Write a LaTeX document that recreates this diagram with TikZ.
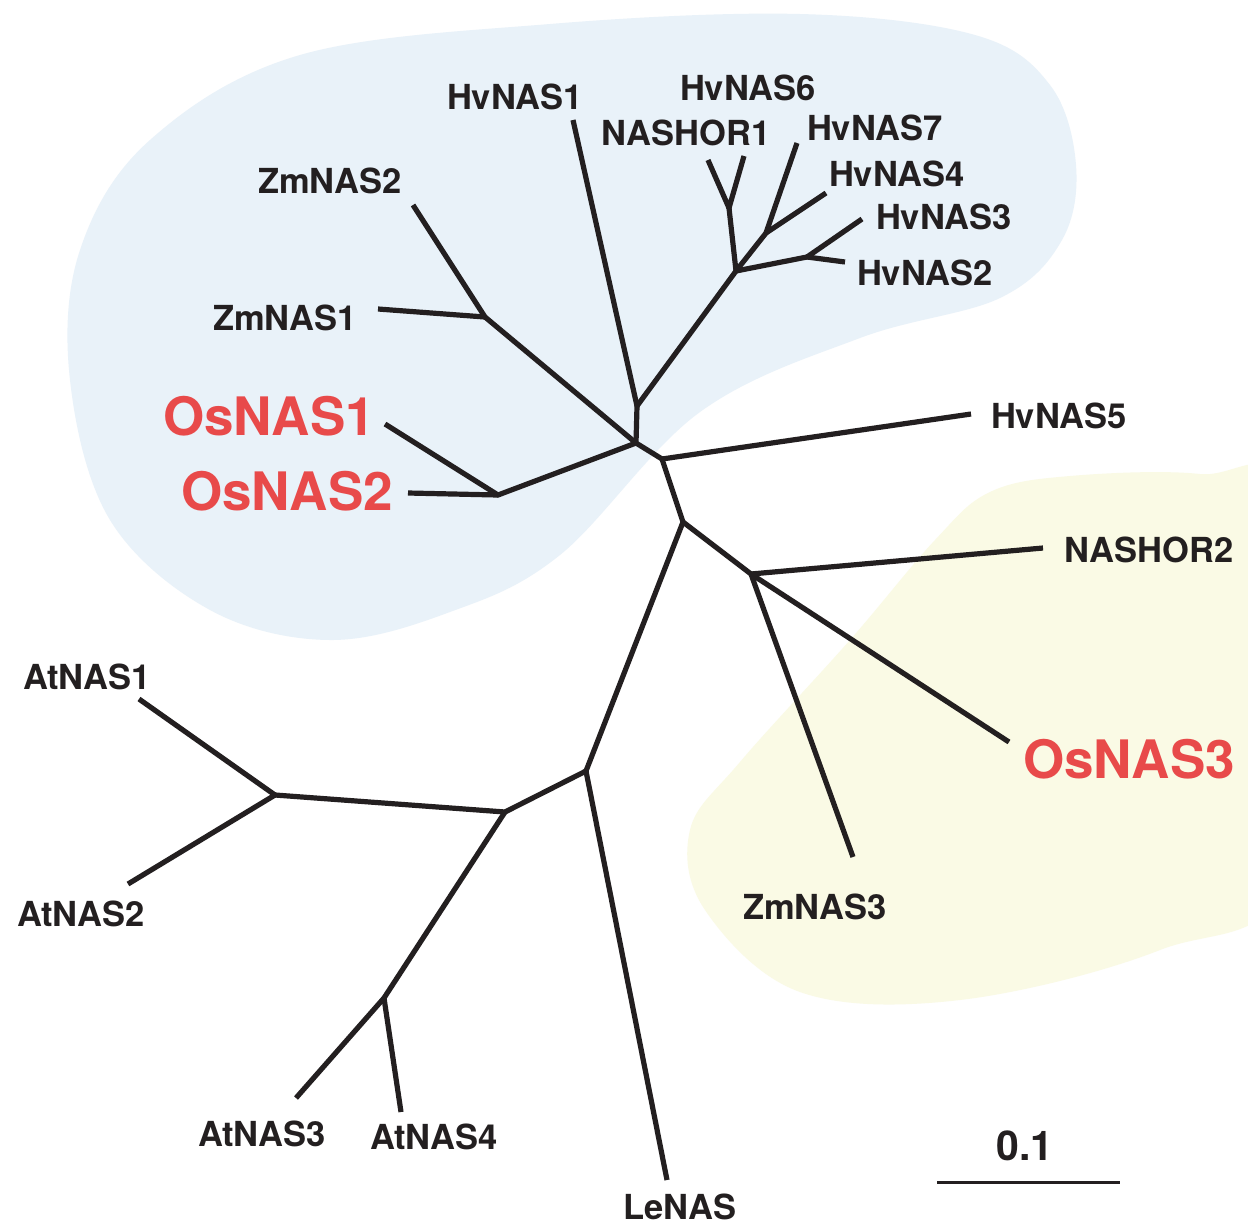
\documentclass[tikz,border=0pt]{standalone}
\usepackage{fontspec}
\newfontfamily\lab{TeX Gyre Heros}
\begin{document}
\begin{tikzpicture}[x=1pt,y=-1pt,
  br/.style={line width=5.2pt, draw=ink, line join=round},
  lbl/.style={inner sep=0pt, text=ink, font=\lab\bfseries\fontsize{34.5}{36}\selectfont},
  rlbl/.style={inner sep=0pt, text=redlab, font=\lab\bfseries\fontsize{53}{56}\selectfont}]
\definecolor{ink}{RGB}{35,31,32}
\definecolor{redlab}{RGB}{232,74,74}
\definecolor{bluebg}{RGB}{233,242,249}
\definecolor{yelbg}{RGB}{250,250,229}
\useasboundingbox (0,0) rectangle (1248,1227);
\fill[white] (0,0) rectangle (1248,1227);
% background regions
\fill[bluebg] plot[smooth cycle, tension=0.6] coordinates {
 (560,555) (700,412) (860,338) (1000,298) (1062,240) (1076,165) (1050,85)
 (975,35) (800,14) (550,24) (300,55) (150,140) (80,250) (70,380)
 (110,520) (210,610) (330,640) (450,612)};
\fill[yelbg] plot[smooth cycle, tension=0.6] coordinates {
 (990,492) (1070,476) (1200,474) (1290,500) (1290,870) (1160,950) (960,1000)
 (800,992) (705,910) (690,830) (740,762) (850,640) (935,540)};
% junctions
\coordinate (jtop) at (637,406);
\coordinate (jc) at (636,443);
\coordinate (jZm) at (485,317);
\coordinate (jOs) at (498,495);
\coordinate (jd) at (662,459);
\coordinate (je) at (683,522);
\coordinate (jN) at (751,574);
\coordinate (jH) at (736,271);
\coordinate (jN1) at (729,208);
\coordinate (j74) at (766,233);
\coordinate (j23) at (807,257);
\coordinate (jf) at (586,771);
\coordinate (jAt) at (505,812);
\coordinate (jA12) at (275,795);
\coordinate (jA34) at (384,998);
% leaf ends
\coordinate (lHv1) at (573,120);
\coordinate (lN1a) at (708,160);
\coordinate (lN1b) at (744,156);
\coordinate (lHv7) at (797,143);
\coordinate (lHv4) at (826,193);
\coordinate (lHv3) at (862,219);
\coordinate (lHv2) at (845,262);
\coordinate (lZm2) at (413,205);
\coordinate (lZm1) at (378,309);
\coordinate (lOs1) at (385,424);
\coordinate (lOs2) at (408,493);
\coordinate (lHv5) at (971,414);
\coordinate (lNH2) at (1043,548);
\coordinate (lOs3) at (1009,742);
\coordinate (lZm3) at (853,857);
\coordinate (lAt1) at (139,699);
\coordinate (lAt2) at (128,884);
\coordinate (lAt3) at (296,1098);
\coordinate (lAt4) at (401,1112);
\coordinate (lLe) at (667,1180);
% branches
\draw[br] (lHv1) -- (jtop) -- (jc) -- (jd) -- (je) -- (jf) -- (lLe);
\draw[br] (jtop) -- (jH) -- (j74) -- (lHv7);
\draw[br] (lN1a) -- (jN1) -- (lN1b);
\draw[br] (jN1) -- (jH);
\draw[br] (j74) -- (lHv4);
\draw[br] (jH) -- (j23) -- (lHv2);
\draw[br] (j23) -- (lHv3);
\draw[br] (lZm2) -- (jZm) -- (jc);
\draw[br] (lZm1) -- (jZm);
\draw[br] (lOs1) -- (jOs) -- (lOs2);
\draw[br] (jOs) -- (jc);
\draw[br] (jd) -- (lHv5);
\draw[br] (je) -- (jN) -- (lZm3);
\draw[br] (lNH2) -- (jN) -- (lOs3);
\draw[br] (lAt1) -- (jA12) -- (lAt2);
\draw[br] (jA12) -- (jAt) -- (jf);
\draw[br] (jAt) -- (jA34) -- (lAt3);
\draw[br] (jA34) -- (lAt4);
\foreach \j in {jtop,jc,jZm,jOs,jd,je,jN,jH,jN1,j74,j23,jf,jAt,jA12,jA34}
  \fill[ink] (\j) circle (2.6);
% labels
\node[lbl] (tHv1) at (515,97) {HvNAS1};
\node[lbl] (tHv6) at (748,88) {HvNAS6};
\node[lbl] (tN1) at (686,133) {NASHOR1};
\node[lbl] (tHv7) at (875,128) {HvNAS7};
\node[lbl] (tHv4) at (897,174) {HvNAS4};
\node[lbl] (tHv3) at (944,217) {HvNAS3};
\node[lbl] (tHv2) at (925,273) {HvNAS2};
\node[lbl] (tZm2) at (330,181) {ZmNAS2};
\node[lbl] (tZm1) at (285,318) {ZmNAS1};
\node[rlbl] (tOs1) at (269,416) {OsNAS1};
\node[rlbl] (tOs2) at (287,491) {OsNAS2};
\node[lbl] (tHv5) at (1059,416) {HvNAS5};
\node[lbl] (tNH2) at (1149,550) {NASHOR2};
\node[rlbl] (tOs3) at (1129,759) {OsNAS3};
\node[lbl] (tZm3) at (815,907) {ZmNAS3};
\node[lbl] (tAt1) at (87,677) {AtNAS1};
\node[lbl] (tAt2) at (81,914) {AtNAS2};
\node[lbl] (tAt3) at (262,1134) {AtNAS3};
\node[lbl] (tAt4) at (434,1137) {AtNAS4};
\node[lbl] (tLe) at (680,1207) {LeNAS};
% scale bar
\node[lbl, font=\lab\bfseries\fontsize{41}{44}\selectfont] (tsc) at (1025,1146) {0.1};
\coordinate (sbL) at (937,1182);
\coordinate (sbR) at (1120,1182);
\draw[line width=3pt, draw=ink] (sbL) -- (sbR);
\end{tikzpicture}
\end{document}
